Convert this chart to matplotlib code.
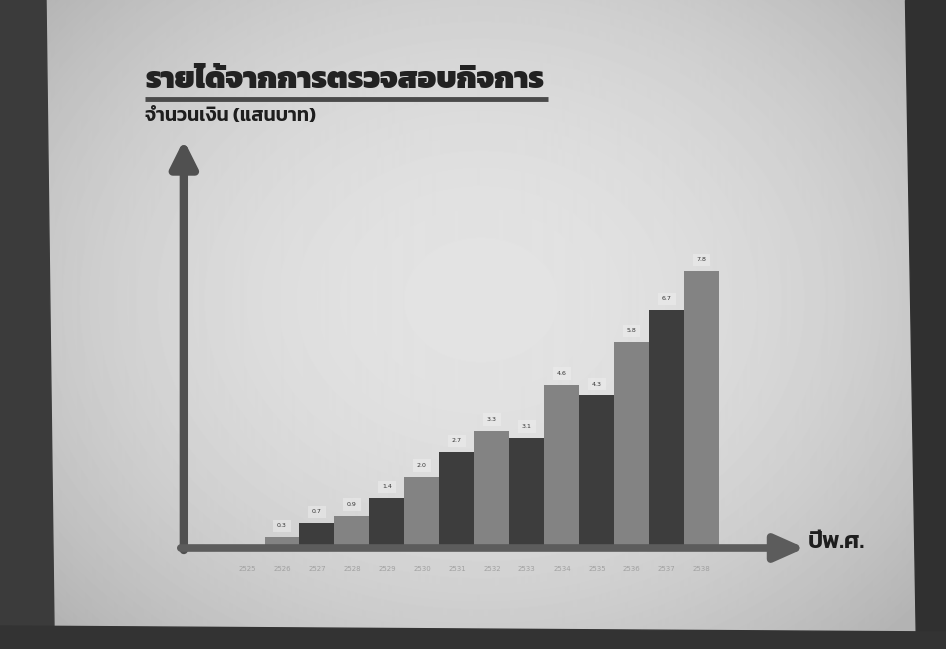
import numpy as np
import matplotlib
matplotlib.use("Agg")
import matplotlib.pyplot as plt
from matplotlib.patches import FancyArrowPatch, Polygon

# data (values in 100,000 baht)
years = ["2525", "2526", "2527", "2528", "2529", "2530", "2531",
         "2532", "2533", "2534", "2535", "2536", "2537", "2538"]
income = [0.0, 0.3, 0.7, 0.9, 1.4, 2.0, 2.7, 3.3, 3.1, 4.6, 4.3, 5.8, 6.7, 7.8]

title = "รายได้จากการตรวจสอบกิจการ"
ylabel = "จำนวนเงิน (แสนบาท)"
xlabel = "ปีพ.ศ."

W, H = 946, 649
fig = plt.figure(figsize=(W / 100, H / 100), dpi=100)

# background: photographed slide with dark surroundings
bg = fig.add_axes([0, 0, 1, 1])
bg.set_xlim(0, W)
bg.set_ylim(H, 0)
bg.axis("off")
yy, xx = np.mgrid[0:H, 0:W]
d = np.sqrt(((xx - 480) / 520.0) ** 2 + ((yy - 300) / 420.0) ** 2)
shade = np.clip(0.89 - 0.15 * d ** 2, 0.70, 0.92)
bg.imshow(shade, cmap="gray", vmin=0, vmax=1, extent=(0, W, H, 0), zorder=0)
bg.add_patch(Polygon([(0, 0), (46, 0), (54, 628), (0, 632)], closed=True,
                     color="#3b3b3b", zorder=1))
bg.add_patch(Polygon([(905, 0), (W, 0), (W, H), (916, H)], closed=True,
                     color="#303030", zorder=1))
bg.add_patch(Polygon([(0, 626), (W, 632), (W, H), (0, H)], closed=True,
                     color="#333333", zorder=1))

# titles
fig.text(145 / W, 1 - 81 / H, title, family="Kanit", weight="black",
         fontsize=22, color="#222222", va="center", ha="left")
bg.plot([145, 548], [99, 99], color="#4a4a4a", lw=3.5, solid_capstyle="butt", zorder=2)
fig.text(145 / W, 1 - 117 / H, ylabel, family="Kanit", weight="semibold",
         fontsize=14, color="#1e1e1e", va="center", ha="left")
fig.text(808 / W, 1 - 542 / H, xlabel, family="Kanit", weight="semibold",
         fontsize=17, color="#1e1e1e", va="center", ha="left")

# chart
ax = fig.add_axes([190 / W, (H - 548) / H, (805 - 190) / W, (548 - 140) / H])
ax.patch.set_alpha(0)
x = np.arange(len(years))
colors = ["#3d3d3d" if i % 2 == 0 else "#838383" for i in range(len(years))]
ax.bar(x, income, width=1.0, color=colors, edgecolor="none", zorder=2)
for xi, v in zip(x, income):
    if v > 0:
        ax.text(xi, v + 0.25, f"{v:.1f}", ha="center", va="bottom", fontsize=4.5,
                color="#333333", zorder=3,
                bbox=dict(boxstyle="square,pad=0.6", fc="#eeeeee", ec="none", alpha=0.5))

ax.set_xlim(-1.63, 15.95)
ax.set_ylim(0, 11.5)
for s in ax.spines.values():
    s.set_visible(False)
ax.set_yticks([])
ax.set_xticks(x)
ax.set_xticklabels(years, fontsize=5, color="#a0a0a0")
ax.tick_params(axis="x", length=0, pad=13)

# axis arrows
ax.add_patch(FancyArrowPatch((-0.01, -0.005), (-0.01, 1.0), transform=ax.transAxes,
                             arrowstyle="-|>,head_width=0.4,head_length=0.8",
                             mutation_scale=20, lw=6, color="#505050",
                             clip_on=False, zorder=4, shrinkA=0, shrinkB=0))
ax.add_patch(FancyArrowPatch((-0.015, 0), (1.0, 0), transform=ax.transAxes,
                             arrowstyle="-|>,head_width=0.4,head_length=0.9",
                             mutation_scale=20, lw=5.5, color="#5c5c5c",
                             clip_on=False, zorder=4, shrinkA=0, shrinkB=0))

fig.savefig("out.png", dpi=100)
